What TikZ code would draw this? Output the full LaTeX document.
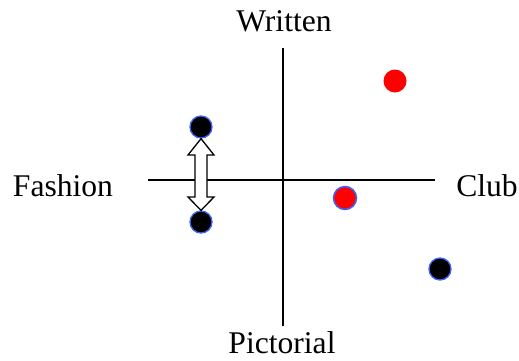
\documentclass[tikz,border=0pt]{standalone}
\usepackage{fontspec}
\setmainfont{Liberation Serif}
\begin{document}
\begin{tikzpicture}[x=1pt,y=-1pt,
  axis/.style={line width=1.6pt,black},
  lbl/.style={font=\fontsize{31.6}{36}\selectfont,inner sep=0pt},
  bdot/.style={circle,fill=black,draw={rgb,255:red,60;green,100;blue,255},line width=1.3pt,minimum size=22pt,inner sep=0pt},
  rdot/.style={circle,fill=red,minimum size=23pt,inner sep=0pt},
  rdotb/.style={circle,fill=red,draw={rgb,255:red,60;green,100;blue,255},line width=1.5pt,minimum size=23pt,inner sep=0pt},
  blockarrow/.style={draw=black,fill=white,line width=1.3pt,line join=miter}]
\useasboundingbox (0,0) rectangle (519,360);
\coordinate (vt) at (283,48);
\coordinate (vb) at (283,326);
\coordinate (hl) at (148,180);
\coordinate (hr) at (435,180);
\draw[axis] (vt) -- (vb);
\draw[axis] (hl) -- (hr);
\node[lbl] (written) at (284,21) {Written};
\node[lbl] (pictorial) at (282,343) {Pictorial};
\node[lbl] (fashion) at (63,186) {Fashion};
\node[lbl] (club) at (487,186) {Club};
\node[rdot] (r1) at (395,81) {};
\node[rdotb] (r2) at (345,198) {};
\node[bdot] (b1) at (201,127) {};
\node[bdot] (b2) at (201,222) {};
\node[bdot] (b3) at (440,269) {};
\draw[blockarrow] (b1.south) -- (214,155) -- (207,155) -- (207,197) -- (214,197) -- (b2.north) -- (188,197) -- (195,197) -- (195,155) -- (188,155) -- cycle;
\end{tikzpicture}
\end{document}
